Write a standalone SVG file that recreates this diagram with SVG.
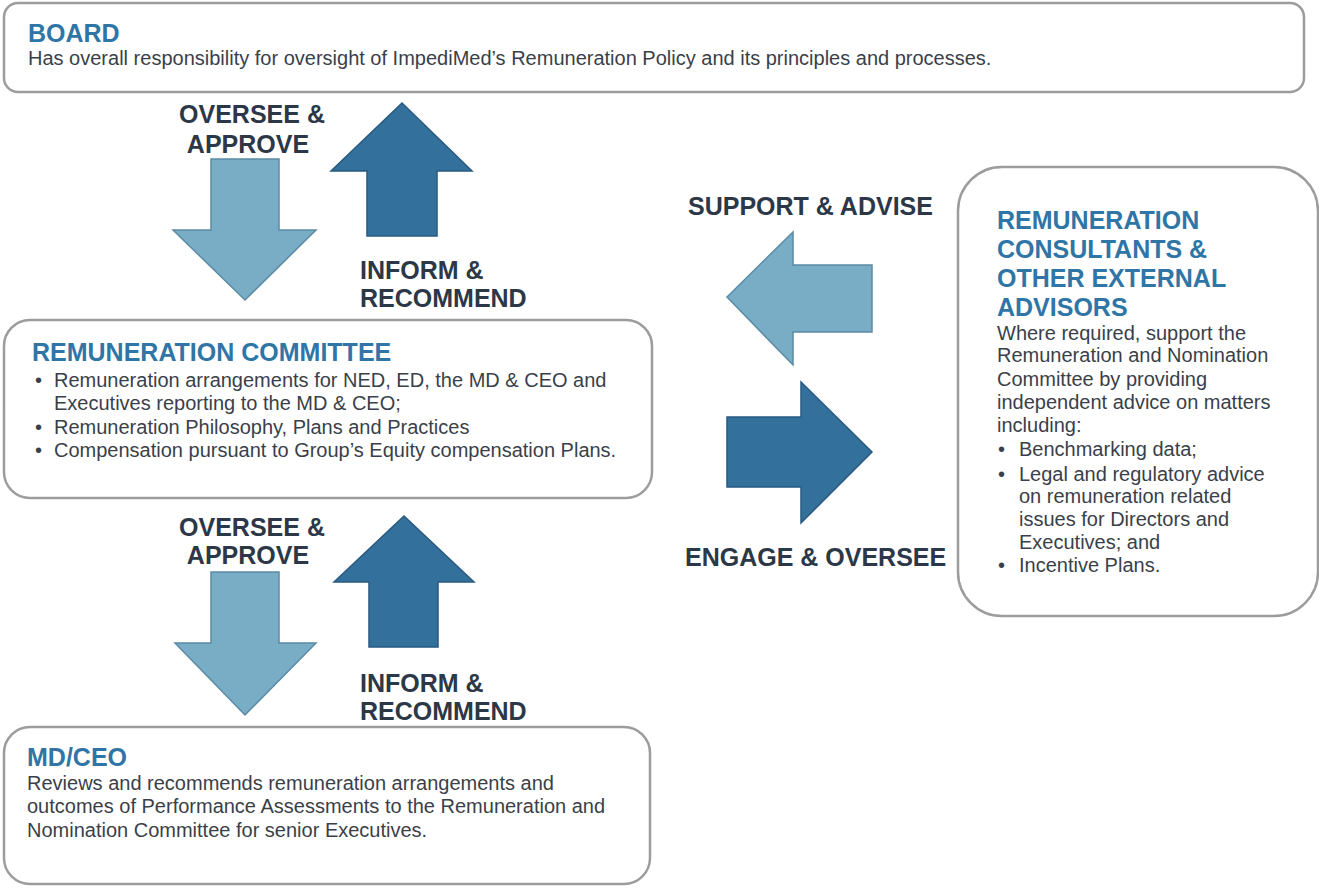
<svg xmlns="http://www.w3.org/2000/svg" width="1319" height="888" viewBox="0 0 1319 888">
<style>
.box{fill:#fff;stroke:#9c9c9c;stroke-width:2.5}
.ttl{font-family:"Liberation Sans",Arial,sans-serif;font-weight:bold;font-size:25px;fill:#2f75a6}
.bd{font-family:"Liberation Sans",Arial,sans-serif;font-size:20px;fill:#3a3f49}
.lbl{font-family:"Liberation Sans",Arial,sans-serif;font-weight:bold;font-size:25px;fill:#2c3747}
.light{fill:#79adc5;stroke:#5a8ba4;stroke-width:1.5}
.dark{fill:#33709c;stroke:#295a80;stroke-width:1.5}
</style>
<rect width="1319" height="888" fill="#fff"/>
<g id="board">
<rect class="box" x="4" y="3" width="1300" height="89" rx="14"/>
<text class="ttl" x="28" y="42">BOARD</text>
<text class="bd" x="28" y="65">Has overall responsibility for oversight of ImpediMed’s Remuneration Policy and its principles and processes.</text>
</g>
<g id="committee">
<rect class="box" x="4" y="320" width="648" height="178" rx="26"/>
<text class="ttl" x="32" y="361">REMUNERATION COMMITTEE</text>
<text class="bd" x="35" y="387">•</text>
<text class="bd" x="54" y="387">Remuneration arrangements for NED, ED, the MD &amp; CEO and</text>
<text class="bd" x="54" y="410">Executives reporting to the MD &amp; CEO;</text>
<text class="bd" x="35" y="434">•</text>
<text class="bd" x="54" y="434">Remuneration Philosophy, Plans and Practices</text>
<text class="bd" x="35" y="457">•</text>
<text class="bd" x="54" y="457">Compensation pursuant to Group’s Equity compensation Plans.</text>
</g>
<g id="mdceo">
<rect class="box" x="4" y="727" width="646" height="157" rx="26"/>
<text class="ttl" x="27" y="766">MD/CEO</text>
<text class="bd" x="27" y="790">Reviews and recommends remuneration arrangements and</text>
<text class="bd" x="27" y="813">outcomes of Performance Assessments to the Remuneration and</text>
<text class="bd" x="27" y="837">Nomination Committee for senior Executives.</text>
</g>
<g id="advisors">
<rect class="box" x="958" y="167" width="360" height="449" rx="44"/>
<text class="ttl" x="997" y="229">REMUNERATION</text>
<text class="ttl" x="997" y="258">CONSULTANTS &amp;</text>
<text class="ttl" x="997" y="287">OTHER EXTERNAL</text>
<text class="ttl" x="997" y="316">ADVISORS</text>
<text class="bd" x="997" y="340">Where required, support the</text>
<text class="bd" x="997" y="362">Remuneration and Nomination</text>
<text class="bd" x="997" y="386">Committee by providing</text>
<text class="bd" x="997" y="409">independent advice on matters</text>
<text class="bd" x="997" y="432">including:</text>
<text class="bd" x="998" y="456">•</text>
<text class="bd" x="1019" y="456">Benchmarking data;</text>
<text class="bd" x="998" y="481">•</text>
<text class="bd" x="1019" y="481">Legal and regulatory advice</text>
<text class="bd" x="1019" y="503">on remuneration related</text>
<text class="bd" x="1019" y="526">issues for Directors and</text>
<text class="bd" x="1019" y="549">Executives; and</text>
<text class="bd" x="998" y="572">•</text>
<text class="bd" x="1019" y="572">Incentive Plans.</text>
</g>
<g id="connectors">
<polygon class="light" points="211,159 279,159 279,230 316,230 245,300 173,230 211,230"/>
<polygon class="dark" points="402,103 472,171 437,171 437,236 367,236 367,171 331,171"/>
<polygon class="light" points="211,572 279,572 279,643 316,643 245,715 175,643 211,643"/>
<polygon class="dark" points="404,516 474,582 438,582 438,647 369,647 369,582 334,582"/>
<polygon class="light" points="727,297 793,232 793,265 872,265 872,332 793,332 793,365"/>
<polygon class="dark" points="727,417 801,417 801,382 872,452 801,523 801,487 727,487"/>
<text class="lbl" x="252" y="123" text-anchor="middle">OVERSEE &amp;</text>
<text class="lbl" x="248" y="153" text-anchor="middle">APPROVE</text>
<text class="lbl" x="360" y="279">INFORM &amp;</text>
<text class="lbl" x="360" y="307">RECOMMEND</text>
<text class="lbl" x="252" y="536" text-anchor="middle">OVERSEE &amp;</text>
<text class="lbl" x="248" y="564" text-anchor="middle">APPROVE</text>
<text class="lbl" x="360" y="692">INFORM &amp;</text>
<text class="lbl" x="360" y="720">RECOMMEND</text>
<text class="lbl" x="688" y="215">SUPPORT &amp; ADVISE</text>
<text class="lbl" x="685" y="566">ENGAGE &amp; OVERSEE</text>
</g>
</svg>
